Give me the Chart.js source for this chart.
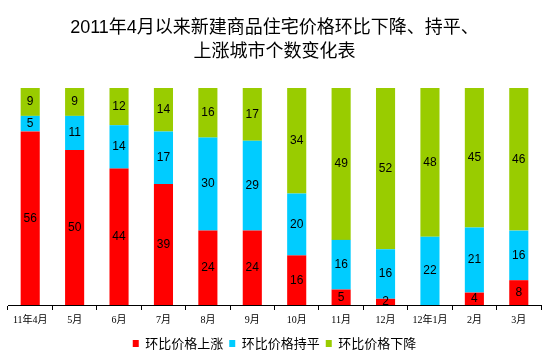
<!DOCTYPE html>
<html>
<head>
<meta charset="utf-8">
<script src="https://cdn.jsdelivr.net/npm/chart.js@4.4.1/dist/chart.umd.min.js"></script>
<style>
html,body{margin:0;padding:0;background:#fff;}
#wrap{width:554px;height:362px;}
</style>
</head>
<body>
<div id="wrap"><canvas id="c" width="554" height="362"></canvas></div>
<script>
const categories = ["11年4月","5月","6月","7月","8月","9月","10月","11月","12月","12年1月","2月","3月"];
const riseValues = [56,50,44,39,24,24,16,5,2,0,4,8];
const flatValues = [5,11,14,17,30,29,20,16,16,22,21,16];
const fallValues = [9,9,12,14,16,17,34,49,52,48,45,46];
const seriesNames = ["环比价格上涨","环比价格持平","环比价格下降"];
const titleLines = ["2011年4月以来新建商品住宅价格环比下降、持平、","上涨城市个数变化表"];

const labelPlugin = {
  id: 'barLabels',
  afterDatasetsDraw(chart) {
    const ctx = chart.ctx;
    ctx.save();
    ctx.font = '12px "Liberation Sans", Arial, sans-serif';
    ctx.fillStyle = '#000';
    ctx.textAlign = 'center';
    ctx.textBaseline = 'middle';
    chart.data.datasets.forEach((ds, i) => {
      const meta = chart.getDatasetMeta(i);
      meta.data.forEach((el, j) => {
        const v = ds.data[j];
        if (!v) return;
        const p = el.getProps(['x','y','base'], true);
        ctx.fillText(String(v), p.x, (p.y + p.base) / 2);
      });
    });
    ctx.restore();
  }
};

new Chart(document.getElementById('c'), {
  type: 'bar',
  data: {
    labels: categories,
    datasets: [
      {label: seriesNames[0], data: riseValues, backgroundColor: '#FF0000'},
      {label: seriesNames[1], data: flatValues, backgroundColor: '#00CCFF'},
      {label: seriesNames[2], data: fallValues, backgroundColor: '#99CC00'}
    ]
  },
  options: {
    responsive: false,
    animation: false,
    devicePixelRatio: 1,
    datasets: {bar: {categoryPercentage: 1, barPercentage: 0.43}},
    layout: {padding: {left: 8, right: 13, top: 0, bottom: 2}},
    scales: {
      x: {
        stacked: true,
        border: {display: true, color: '#000', width: 1},
        grid: {display: true, drawOnChartArea: false, drawTicks: true, tickLength: 5, color: '#000', offset: true},
        ticks: {color: '#000', padding: 2, maxRotation: 0, autoSkip: false, font: {size: 10, family: '"Liberation Serif", "Noto Sans CJK SC", serif', lineHeight: 1.7}}
      },
      y: {stacked: true, display: false, min: 0, max: 70}
    },
    plugins: {
      title: {
        display: true,
        text: titleLines,
        color: '#000',
        font: {size: 18, weight: 'normal', family: '"Liberation Sans", "Noto Sans CJK SC", sans-serif', lineHeight: 1.333},
        padding: {top: 16, bottom: 24}
      },
      legend: {
        position: 'bottom',
        labels: {
          color: '#000',
          boxWidth: 6, boxHeight: 7,
          padding: 6,
          font: {size: 13, family: '"Noto Sans CJK SC", sans-serif'}
        }
      },
      tooltip: {enabled: false}
    }
  },
  plugins: [labelPlugin]
});
</script>
</body>
</html>
